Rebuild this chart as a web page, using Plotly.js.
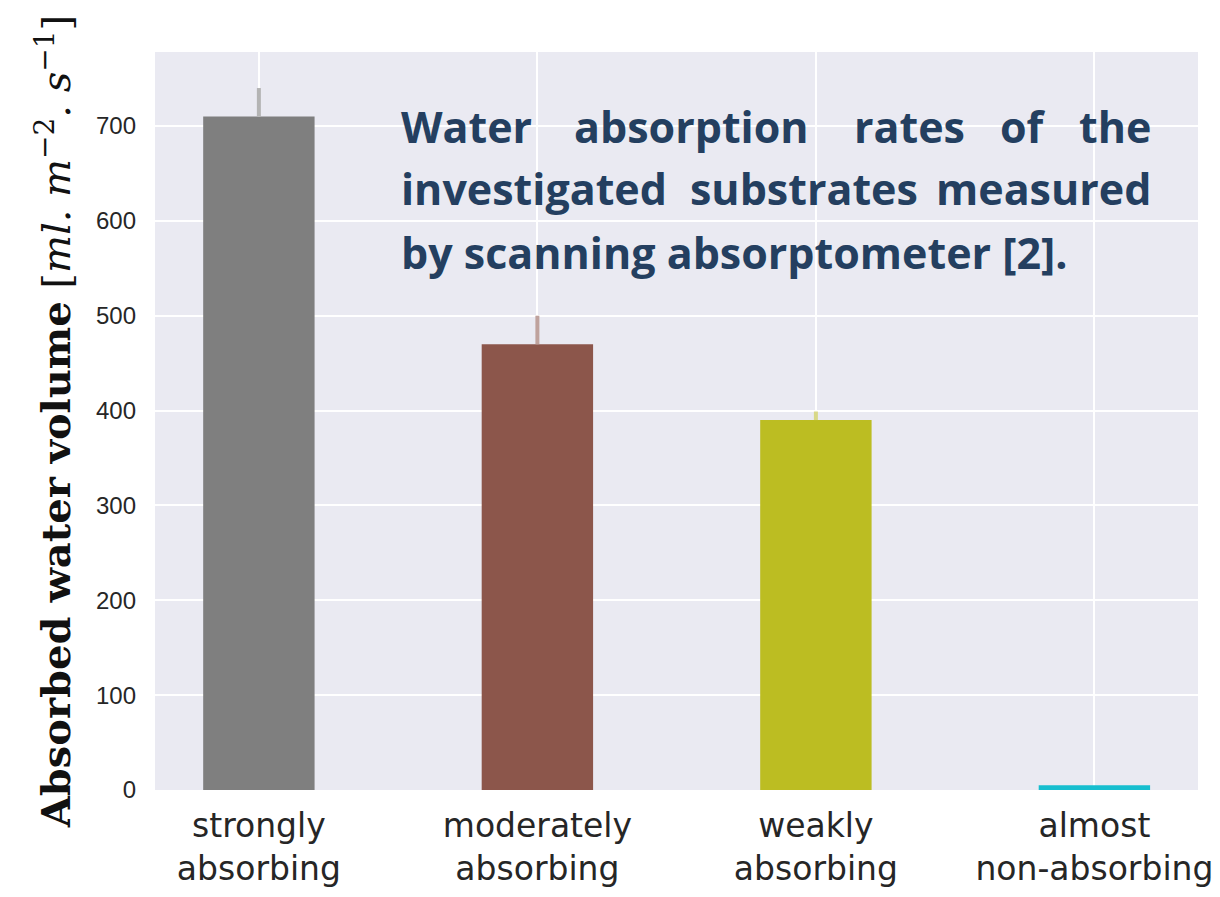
<!DOCTYPE html>
<html>
<head>
<meta charset="utf-8">
<script src="https://cdn.plot.ly/plotly-3.0.1.min.js"></script>
<style>html,body{margin:0;padding:0;background:#fff;}#chart{width:1220px;height:897px;}</style>
</head>
<body>
<div id="chart"></div>
<script>
// ---- data ----
const categories = ['strongly<br>absorbing', 'moderately<br>absorbing', 'weakly<br>absorbing', 'almost<br>non-absorbing'];
const values = [710, 470, 390, 5];
const errorsUp = [30, 30, 9, 0];
const barColors = ['#7f7f7f', '#8c564b', '#bcbd22', '#17becf'];
const errColors = ['#b4b4b4', '#bfa29d', '#d8d888', '#7fd8e2'];
const yTicks = [0, 100, 200, 300, 400, 500, 600, 700];

// ---- layout constants ----
const L = 155, R = 22, T = 52, B = 107, W = 1220, H = 897;
const pw = W - L - R, ph = H - T - B;
const px = x => (x - L) / pw;
const py = y => (H - B - y) / ph;

const traces = categories.map((c, i) => ({
  type: 'bar',
  x: [c],
  y: [values[i]],
  width: 0.4,
  marker: {color: barColors[i], line: {width: 0}},
  error_y: {type: 'data', symmetric: false, array: [errorsUp[i]], arrayminus: [0],
            color: errColors[i], thickness: 4, width: 0, visible: errorsUp[i] > 0},
  showlegend: false,
  hoverinfo: 'x+y'
}));

const noteFont = {family: 'Open Sans', size: 43, color: '#243F60', weight: 700};
function word(t, x, y, anchor) {
  return {text: '<b>' + t + '</b>', xref: 'paper', yref: 'paper', x: px(x), y: py(y),
          xanchor: anchor, yanchor: 'middle', showarrow: false, font: noteFont, align: 'left'};
}
const annotations = [
  word('Water', 399, 126, 'left'),
  word('absorption', 572, 126, 'left'),
  word('rates', 852, 126, 'left'),
  word('of', 998, 126, 'left'),
  word('the', 1153, 126, 'right'),
  word('investigated', 399, 188, 'left'),
  word('substrates', 688, 188, 'left'),
  word('measured', 1153, 188, 'right'),
  word('by scanning absorptometer [2].', 399, 252, 'left')
];

const layout = {
  width: W, height: H,
  margin: {l: L, r: R, t: T, b: B, pad: 0},
  paper_bgcolor: '#ffffff',
  plot_bgcolor: '#EAEAF2',
  barmode: 'overlay',
  xaxis: {
    type: 'category',
    categoryorder: 'array', categoryarray: categories,
    range: [-0.373, 3.372],
    showgrid: true, gridcolor: '#ffffff', gridwidth: 2,
    zeroline: false, showline: false, ticks: '',
    ticklabelstandoff: 13,
    tickfont: {family: 'DejaVu Sans, sans-serif', size: 33, color: '#262626'},
    automargin: false
  },
  yaxis: {
    range: [0, 778],
    tickvals: yTicks,
    showgrid: true, gridcolor: '#ffffff', gridwidth: 2,
    zeroline: false, showline: false, ticks: '',
    ticklabelstandoff: 18,
    tickfont: {family: 'Liberation Sans, Arial, sans-serif', size: 24, color: '#262626'},
    title: {
      text: '<b>Absorbed water volume</b> [<i>ml. m</i><sup>−2</sup><i>. s</i><sup>−1</sup>]',
      font: {family: 'DejaVu Serif, serif', size: 40, color: '#111111'},
      standoff: 12
    },
    automargin: false
  },
  annotations: annotations
};

Plotly.newPlot('chart', traces, layout, {displayModeBar: false, staticPlot: true});
</script>
</body>
</html>
